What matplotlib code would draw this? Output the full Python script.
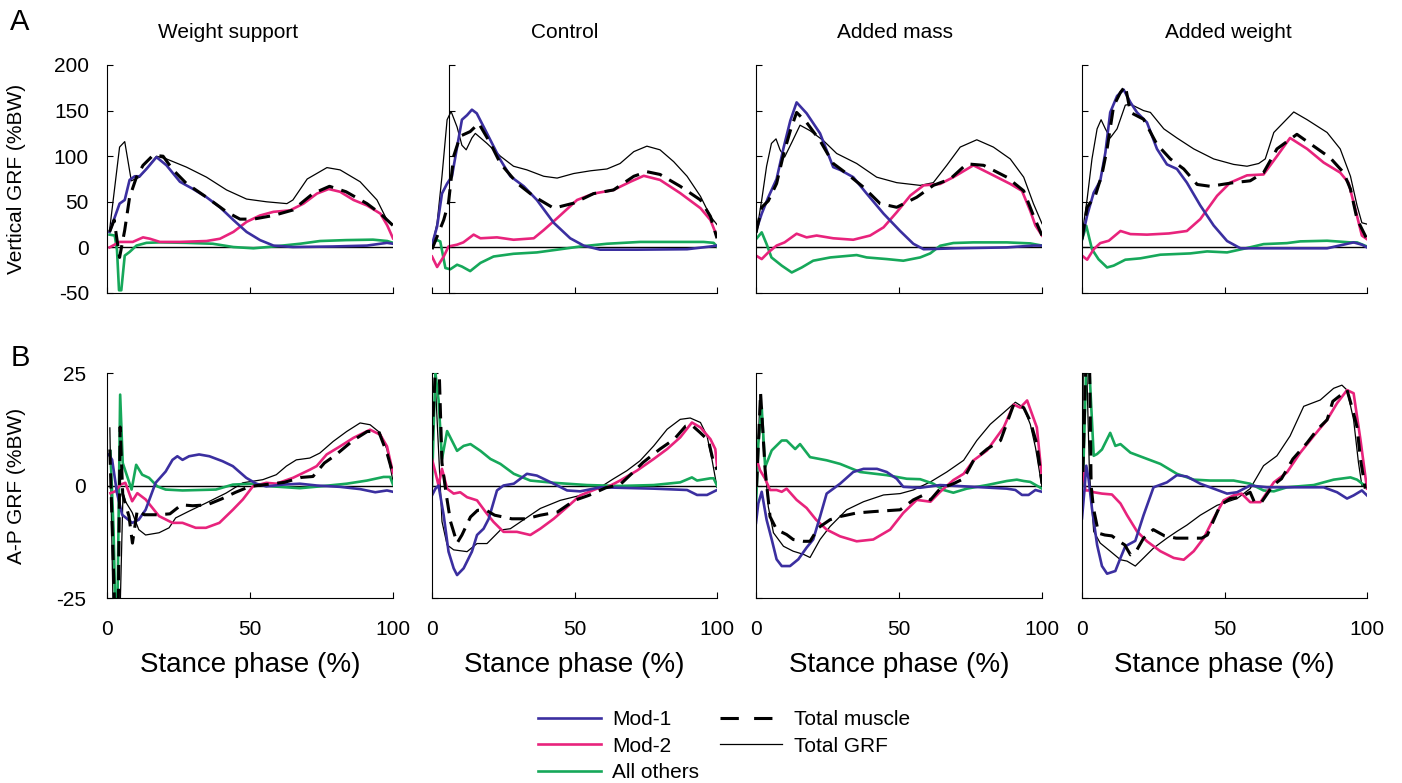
import matplotlib
matplotlib.use("Agg")
import matplotlib.pyplot as plt
from matplotlib.lines import Line2D
import numpy as np

plt.rcParams['font.family'] = ['Liberation Sans', 'DejaVu Sans']
plt.rcParams['axes.unicode_minus'] = False

CONDITIONS = ["Weight support", "Control", "Added mass", "Added weight"]
SERIES = ["Mod-1", "Mod-2", "All others", "Total muscle", "Total GRF"]
V_TICKS = [-50, 0, 50, 100, 150, 200]
AP_TICKS = [-25, 0, 25]
X_TICKS = [0, 50, 100]

# ---------------- Vertical GRF (%BW) ----------------
# Weight support
WS_V_GRF = [(0.9,19),(4.4,110),(6.2,116),(8.5,73),(11.4,77),(17.3,100),(20.8,97),(27.8,88),(34.8,77),
            (41.8,63),(48.8,53),(55.8,50),(62.9,48),(65,52),(70,75),(76.9,87.5),(81.5,85),(88.5,72),
            (94.4,52),(97.9,30),(100,25)]
WS_V_MOD1 = [(0.9,17),(2.7,33),(4.4,48),(6.2,52),(7.9,74),(9.7,78),(11.4,78),(13.8,86),(17.3,99),(20.8,90),
             (25.5,72),(30.1,64),(34.8,55),(39.5,44),(44.2,30),(48.8,17),(53.5,8),(58.2,2),(65,0.4),(79,1),
             (90.9,2),(97.9,5),(100,4)]
WS_V_MUS = [(0.9,17),(2.5,30),(4.4,-11),(6.2,19),(7.9,55),(10.3,77),(12.6,90),(16.1,101),(19.6,100),(23.1,85),
            (27.8,70),(34.8,55),(41.8,39),(46.5,31),(51.2,31),(58.2,35),(65,41),(72,59),(77.8,67),(83.6,61),
            (90.9,48),(95.6,37),(100,24)]
WS_V_MOD2 = [(0.9,0),(4.4,6),(9,6),(12.6,11),(15,9.5),(18.5,6),(25.5,6),(34.8,7),(39.5,9.5),(44.2,17),
             (48.8,28),(53.5,35),(58.2,39),(64,40.6),(68.7,48),(73.4,59),(77.5,64),(81.5,61),(86.2,52),
             (90.9,46),(95.6,37),(98,24),(100,10)]
WS_V_OTH = [(0.9,14),(2.7,13),(3.5,-3),(4.2,-47),(5,-47),(6.2,-9),(7.9,-5),(10.3,2),(13.8,5),(18.5,5.5),
            (27.8,5),(37,4),(44.2,0.4),(51.2,-1),(58.2,1),(67.5,4),(74.5,7),(83.6,8),(93,8.5),(98,7),(100,5)]

# Control
CT_V_GRF = [(0,1),(1.8,27),(3.5,78),(5.3,140),(6.7,149),(8.8,132),(10.5,112),(12,107),(14,120),(15.2,125),
            (19.3,114),(24,100),(28.6,89),(33.3,85),(39.2,78),(43.9,76),(49.7,81),(55.6,84),(61.4,86),(66,92),
            (70.8,105),(75.4,111),(80,107),(84.8,94),(89.5,78),(94.2,56),(97.7,34),(100,25)]
CT_V_MOD1 = [(0,3),(1.8,23),(3.5,59),(5.3,70),(7,78),(8.8,110),(10.5,140),(12.3,145),(14,151),(15.7,147),
             (19.3,125),(24,96),(27.5,78),(32.2,67),(36.8,52),(42.7,27),(48.5,10),(53.2,2),(59,-2.5),(72,-2.5),
             (89.5,-2),(97.7,1),(100,2)]
CT_V_MUS = [(0,-2),(1.8,12),(4.1,30),(5.8,49),(7.6,100),(9.9,122),(13.4,127),(16.4,136),(20.5,114),(24,92),
            (30,70),(35.7,56),(42.7,43),(49.7,48.5),(56.7,59),(63.7,63),(70.8,78),(75.4,83),(80,80),(87.1,67),
            (94.2,52),(97.7,34),(100,10)]
CT_V_MOD2 = [(0,-10),(1.8,-21.5),(4.1,-10),(5.8,1),(8.8,3),(11,5.5),(14.6,14),(17,10),(22.8,11),(28.6,8.4),
             (35.7,10),(39.2,19),(43.9,32),(50.9,52),(56.7,59),(63.7,63),(69.6,72),(74.3,78.5),(80,74),
             (87.1,59.5),(94.2,43),(97.7,30),(100,12)]
CT_V_OTH = [(0,5),(1.8,8),(2.9,6.5),(4.7,-22.6),(6.4,-24),(8.8,-19),(10.5,-21),(13.4,-26),(17,-17),(21.6,-10),
            (28.6,-7),(36.8,-5.5),(43.9,-2.5),(52,1),(61.4,4),(73,6),(84.8,6),(95.3,6),(98.8,5),(100,1)]

# Added mass
AM_V_GRF = [(0,13),(2,52),(3.7,89),(5.4,114),(7,119),(8.4,107),(10,99),(12.5,115),(15.4,134),(18.9,128),
            (23.6,117),(28.2,103),(35.2,92),(42.2,77),(49.2,71),(57.4,68),(62,71),(66.7,90),(71.4,110),
            (77.2,118),(83,110),(88.9,97),(93.6,77),(97,48),(100,26)]
AM_V_MOD1 = [(0,18),(2,37),(4.3,55),(7.2,75),(9.7,110),(12,139),(14.2,159),(17.7,147),(22.4,125),(27,88),
             (29.4,85),(34,77),(38.7,59),(44.6,37),(50.4,18),(55,4),(58.6,-2),(70,-1),(87.7,0),(97,2),(100,2)]
AM_V_MUS = [(0,16),(2,44),(4.3,51),(7.2,70),(9.7,103),(12,128),(14.2,148),(17.7,137),(22.4,117),(27,92),
            (31.7,81),(37.6,66),(43.4,48),(49.2,44),(56.2,55),(62,68),(67.9,75),(73.7,91.6),(79.6,90),
            (87.7,77),(93.6,62),(97,35),(100,13)]
AM_V_MOD2 = [(0,-9),(2,-12.8),(4.3,-5.5),(7.2,2),(10,5.5),(14.2,15),(17.7,11),(21.2,13),(27,10),(34,8.4),
             (39.9,13),(44.6,22),(49.2,38.5),(54,57),(58.6,68),(64.4,69.6),(69,77),(76,90),(83,79),(88.9,69.6),
             (93,62),(95.9,40),(97.7,24),(100,13)]
AM_V_OTH = [(0,9),(2,16.5),(3.7,3.7),(5.4,-11),(9,-20),(12.5,-27.5),(16,-22),(20,-14.6),(26,-11),(35.2,-8.4),
            (38.7,-11),(45.7,-12.8),(51.5,-14.6),(57.4,-11),(60.9,-6.6),(64.4,1.8),(69,4.8),(76,5.5),
            (87.7,5.5),(95.9,4.4),(100,2)]

# Added weight
AW_V_GRF = [(0,13),(1.8,53),(3.5,97),(5.3,130),(6.7,140),(8.2,130),(9.9,120),(12.3,130),(15.2,156),(17,157),
            (21.6,150),(24,148),(28.7,130),(33.3,120),(39.2,108),(46.2,97),(53.2,91),(57.9,89),(62,92),
            (64.3,97),(67.3,126),(74.3,148.5),(79,140),(86,126),(90.6,108),(94.2,78),(96.5,46),(98.2,27),(100,25.5)]
AW_V_MOD1 = [(0,9),(1.8,35),(4.1,60),(6.4,73),(8.2,104),(9.9,148),(12.3,166),(14.6,173),(17,159),(19.3,148),
             (22.8,137),(26.3,108),(29.8,91),(33.3,86),(36.8,71),(41.5,46),(46.2,24),(50.9,7),(55.6,-1),
             (62.6,-1),(86,-1),(95.3,5.5),(98.2,3),(100,0)]
AW_V_MUS = [(0,9),(1.8,44),(4.7,57),(7,80),(8.8,108),(11.1,155),(13.5,170),(15.2,177),(17,148),(21.6,140.5),
            (26.3,113),(31,97),(35.7,86),(40.4,69),(45,67),(53.2,71),(59,73),(63.7,82),(68.4,108),(75.4,124),
            (81.3,111),(87,98.5),(91.8,82),(94.2,64),(96.5,31),(100,9)]
AW_V_MOD2 = [(0,-9),(1.8,-13.5),(4.1,-2),(6.4,4.7),(9.4,7.3),(13.5,18),(17,14.6),(22.8,14),(30.5,15.3),
             (36.8,18),(41.5,31),(47.4,56.6),(52,71),(57.9,79),(63.7,80),(68.4,100),(73,120),(79,108),
             (84.8,93),(90.6,82),(93.5,71),(95.9,42),(98.2,13),(100,9)]
AW_V_OTH = [(0,8.4),(1.5,23.7),(3.5,-2),(5.8,-13),(8.8,-22),(11.1,-20),(15.2,-13.5),(20.5,-12),(27.5,-8),
            (38,-6.6),(43.9,-4.4),(50.9,-5.5),(57.9,-0.7),(63.7,3.6),(71.9,4.7),(76.6,6.6),(86,7.3),(94.2,5.5),
            (96.5,5.5),(100,1)]

# ---------------- A-P GRF (%BW) ----------------
WS_AP_GRF = [(1,12.8),(2.2,-30),(4.5,-30),(5.6,-1.5),(6.4,-3.5),(8.8,-6),(11.1,-9.8),(13.5,-11),(18.2,-10.5),
             (21.7,-9.4),(24,-7.2),(28.7,-5.7),(34.6,-3.9),(41.6,-1.7),(47.5,0.6),(54.5,1.3),(59.2,2.4),
             (62.7,4.3),(66.2,5.7),(70.9,6.1),(74.4,7.2),(79.1,9.8),(83.8,12),(88.5,13.9),(92,13.5),
             (95.5,11.7),(97.9,8),(100,0.9)]
WS_AP_MOD1 = [(0.6,6.9),(1.8,5.7),(3.5,-1.7),(5.3,-6.5),(8.8,-8.3),(11.1,-7.6),(13.5,-5.4),(17,0.6),(20.5,3.1),
              (22.9,5.7),(24.6,6.5),(26.4,5.7),(28.7,6.5),(32.2,6.9),(35.8,6.5),(40.4,5.4),(44,4.3),
              (48.7,1.7),(52.2,0.4),(55.7,-0.2),(61.5,0.2),(67.4,0.4),(73.3,0),(81.5,-0.3),(88.5,-0.8),
              (93.8,-1.5),(97.9,-1.1),(100,-1.4)]
WS_AP_MUS = [(1,8),(2.8,-30),(3.9,-30),(4.6,13),(5.5,-2),(7.7,-6.9),(8.9,-12.8),(10.6,-5.4),(13,-6.5),
             (18,-6.5),(22,-6.3),(26,-4.3),(30,-4.5),(35,-4.3),(40,-3),(45,-1.5),(50,-0.2),(58,0.4),(62,0.7),
             (68,1.8),(72,2),(76,5),(80,6.8),(86,10),(91,12),(95,12),(98,7),(100,2.5)]
WS_AP_MOD2 = [(1.2,-1.7),(2.9,-1.3),(4.7,0.2),(6.4,0.6),(8.8,-3.5),(10.6,-1.7),(13.5,-3.1),(18.2,-6.8),
              (22.9,-8.3),(26.4,-8.3),(31,-9.4),(34.6,-9.4),(39.3,-8.3),(44,-5.4),(47.5,-3.1),(51,-0.2),
              (55.7,0.6),(59.2,0.4),(65,1.7),(70.9,3.5),(73.3,4.3),(76.8,6.9),(81.5,8.7),(86.2,10.6),
              (92,12.4),(95.5,11.3),(97.9,8.7),(100,2.8)]
WS_AP_OTH = [(1.2,7.6),(2.3,-10),(3.0,-30),(3.6,-30),(4.6,20.2),(5.5,5),(8.6,-0.9),(10.2,4.6),(12.3,2.4),
             (14.7,1.7),(17.6,-0.2),(20.5,-0.9),(26.4,-1.1),(38.1,-0.9),(44,0.2),(51,0.4),(58,-0.2),
             (67.4,-0.6),(74.4,-0.2),(83.8,0.4),(90.9,1.1),(96.7,1.9),(99,1.9),(100,0.2)]

CT_AP_GRF = [(0.3,30),(1.0,25),(3.5,-8),(5.3,-13.2),(7.6,-14.3),(12.3,-14.7),(15.8,-12.9),(19.3,-12.9),
             (24,-9.9),(27.5,-9.6),(31,-8.1),(38,-5.1),(45,-3.3),(52,-2.2),(59,-0.4),(63.7,1.5),(68.4,3.3),
             (73,5.5),(77.8,8.8),(82.5,12.5),(87.1,14.7),(90.6,15),(94.2,14),(96.5,11),(98.2,5.9),(100,-0.4)]
CT_AP_MOD1 = [(0,-2.2),(1.2,-0.7),(2.3,0),(4.1,-6.6),(5.8,-14.7),(7.6,-18.4),(8.8,-19.9),(11.1,-18.4),
              (14,-14.7),(15.8,-11),(18.1,-9.6),(19.9,-7.4),(22.8,-1.1),(25.1,0),(28.7,0.4),(33.3,2.6),
              (36.8,2.2),(42.7,0.4),(47.4,-1.1),(52,-1.3),(59,-0.4),(77.8,-0.7),(89.5,-1),(93,-2.1),
              (96.5,-2.1),(100,-1)]
CT_AP_MUS = [(0,10),(1.5,30),(2.5,26),(3.5,5),(5,-2),(6.5,-8),(8.8,-12.8),(10.5,-11),(13.5,-7),(16,-5.5),
             (19,-5.5),(22,-6.6),(28,-7.4),(33,-7.4),(38,-6.6),(44,-5.9),(50,-3.3),(55,-2.2),(61,-0.5),
             (66,0.2),(70,2.6),(74,5.1),(80,8.1),(85,10.3),(89,13.2),(91,13.5),(94,11.8),(97,10),(98.5,5.9),(100,3.5)]
CT_AP_MOD2 = [(0,5.9),(1.2,2.9),(2.3,0),(3.5,3.7),(5.3,-0.7),(7.6,-1.8),(9.9,-1.5),(12.3,-2.6),(15.8,-3.3),
              (19.3,-6.3),(21.6,-8.1),(25.1,-10.3),(29.8,-10.3),(34.5,-11),(38,-9.6),(42.7,-7.4),(47.4,-4.8),
              (52,-2.2),(57.9,-0.7),(61.4,-0.4),(66,1.1),(71.9,3.3),(77.8,5.9),(82.5,8.1),(87.1,10.7),
              (91.2,14),(94.2,12.9),(97.7,10.3),(99.4,8.1),(100,4.4)]
CT_AP_OTH = [(0,0),(0.6,13.2),(1.2,25),(2.3,19),(3.5,5.9),(5.3,12.1),(8.8,7.7),(11.1,8.8),(13.5,9.2),
             (17,7.7),(20.5,5.9),(24,4.8),(28.7,2.6),(34.5,1.1),(42.7,0.6),(54.4,0.1),(66,-0.1),(77.8,0.1),
             (87.1,0.7),(91.2,1.8),(93,1.1),(97.7,1.6),(98.8,1.6),(100,0)]

AM_AP_GRF = [(0.2,-1.8),(1.4,20),(2.6,9.2),(4.3,-4.7),(6.1,-10.5),(9.6,-13.5),(13,-14.6),(16.6,-15.3),
             (18.9,-16),(22.4,-12),(25.9,-9.1),(31.7,-5.4),(37.6,-3.6),(44.6,-2.1),(50.4,-1.8),(55,-1),
             (61,0.8),(66.7,3),(72.6,5.6),(77.2,10),(81.9,13.6),(86.6,16.2),(90.7,18.5),(93.6,17.3),
             (95.9,13.6),(97.7,8.5),(100,-0.3)]
AM_AP_MOD1 = [(0,-8.3),(0.8,-4),(2,-1.4),(3.7,-7.6),(5.5,-12),(7.2,-16.4),(9,-17.9),(11.9,-17.9),(14.8,-16.4),
              (17.7,-13.8),(20,-12),(22.4,-6.9),(24.7,-1.8),(29.4,0.4),(34,3),(37.6,3.7),(42.3,3.7),(45.7,3),
              (49.2,1.5),(51.5,-0.3),(57.4,-0.5),(64.4,0.1),(76.1,-0.3),(87.7,-0.7),(90.7,-1),(93,-2.1),
              (95.3,-2.1),(97.7,-1),(100,-1.4)]
AM_AP_MUS = [(0.2,-0.3),(1.6,20.6),(3.2,3.4),(4.9,-6.9),(7.2,-9.8),(10.7,-10.9),(13,-12),(16.6,-12.4),
             (18.9,-12.4),(21.8,-9.4),(25.9,-7.6),(29.4,-6.9),(35.2,-6.1),(41,-5.8),(45.7,-5.6),(50.4,-5.4),
             (55,-3.2),(58.6,-2.1),(61,-3.2),(64.4,-0.7),(69,0.4),(72.6,1.5),(76.1,5.6),(80.8,8.1),(85.5,10),
             (90.1,18),(93.6,17.3),(95.9,14.3),(98.2,9.2),(100,0.4)]
AM_AP_MOD2 = [(0,6.3),(1.4,3.4),(3.2,1.5),(4.9,-1),(7.2,-1),(9,-1.4),(10.7,-0.7),(14.2,-3.2),(17.7,-5),
              (21,-7.6),(24.7,-9.8),(29.4,-11.3),(35.2,-12.4),(41,-12),(46.9,-9.8),(51.5,-6.1),(56.2,-3.2),
              (61,-3.6),(64.4,-1.4),(69,1.2),(72.6,2.6),(76.1,5.6),(80.8,7.8),(86.6,12.9),(90.1,18),
              (92.4,17.3),(94.8,18.9),(98.2,12.9),(100,1.5)]
AM_AP_OTH = [(0,-4.7),(0.8,9.2),(2,17.3),(3.2,4.1),(5.5,7.8),(9,10),(10.7,10),(13.7,8.1),(15.4,9.2),
             (18.9,6.3),(24.7,5.6),(29.4,4.8),(36.4,3),(45.7,2.3),(52.7,1.5),(57.4,1.4),(62,0.4),(65.6,-1),
             (69,-1.6),(73.7,-0.7),(80.8,0.1),(87.7,1),(91.2,1.3),(93.6,1),(95.9,0.8),(100,-0.7)]

AW_AP_GRF = [(0,-9.5),(0.5,30),(1.5,30),(2.6,3),(4.1,-10.2),(6.4,-12.8),(9.9,-14.6),(13.5,-16.5),(15.8,-16.8),
             (18.7,-17.9),(21.6,-16.1),(25.1,-13.9),(29.8,-11.7),(33.3,-10.2),(36.8,-8.8),(41.5,-6.6),
             (47.4,-4.4),(54.4,-2.9),(59,-0.7),(63.7,4.4),(68.4,6.6),(73,11),(77.8,17.6),(83.6,19),
             (88.3,21.6),(91.2,22.3),(93,21.2),(95.3,14.6),(97,5.1),(98.2,0),(100,-0.4)]
AW_AP_MOD1 = [(0,-7.3),(0.8,-1.5),(1.5,4.4),(2.3,1.5),(3.5,-5.1),(5.3,-13.2),(7,-17.9),(8.8,-19.6),
              (11.7,-19),(13.5,-16.1),(15.2,-13.5),(18.7,-12.3),(21.6,-6.6),(25.1,-0.4),(29.8,0.7),(33.3,2.3),
              (36.8,2),(41.5,0.4),(46.2,-0.7),(50.9,-1.8),(54.4,-1.5),(59,0),(64.9,-0.4),(74.3,-0.4),
              (84.8,-0.4),(89.5,-1.5),(93,-2.9),(95.3,-2.2),(98.2,-1.1),(100,-2.2)]
AW_AP_MUS = [(0.3,3),(1.5,30),(2.6,30),(3.2,0),(4,-5),(5.8,-10.6),(8,-11),(10.5,-11.2),(13,-12.4),(15,-13.2),
             (17,-15.4),(19,-14.6),(21.6,-11.7),(25,-9.8),(29,-11.2),(33,-11.7),(38,-11.7),(42,-11.7),
             (44,-11),(46,-8),(48.5,-4.4),(52,-2.9),(55.6,-2.6),(59,-1.5),(60.5,-3.7),(63,-3.7),(67,0),
             (70,1.5),(74,5.9),(79,9.5),(82.5,12.4),(86,14.6),(88,18.7),(93,21.2),(95,16.8),(96.5,13),
             (97.7,5.9),(99.4,-0.7)]
AW_AP_MOD2 = [(0,6),(1.2,-1.1),(2.9,-1.1),(4.1,-1.5),(7,-1.8),(10.5,-2),(13.5,-4),(15.8,-6.6),(19.3,-10.2),
              (22.8,-12.4),(27.5,-14.6),(32.2,-16.1),(35.7,-16.5),(39.2,-14.6),(42.7,-11.7),(46.2,-7.3),
              (49.7,-3.3),(53.2,-2.2),(56,-1.8),(59,-3.7),(62.6,-3.7),(67.3,0.7),(71.9,2.9),(76.6,7.3),
              (81.3,11),(86,14.6),(89.5,18.3),(93,21.2),(95.3,20.5),(97.7,10.2),(100,-0.7)]
AW_AP_OTH = [(0.3,0),(1.5,27),(2.5,27),(4.1,6.6),(5.3,7),(7,8),(9.9,11.7),(11.7,8.8),(13.5,9.2),(17,7.3),
             (21.6,6.2),(27.5,4.8),(33.3,2.6),(39.2,1.3),(45,1.1),(53.2,1.1),(59,0.4),(63.7,-1.1),(67.3,-1.3),
             (71.9,-0.4),(81.3,0.1),(88.3,1.3),(94.2,1.8),(96.5,1.3),(100,-0.4)]

V_DATA = [
    (WS_V_MOD1, WS_V_MOD2, WS_V_OTH, WS_V_MUS, WS_V_GRF),
    (CT_V_MOD1, CT_V_MOD2, CT_V_OTH, CT_V_MUS, CT_V_GRF),
    (AM_V_MOD1, AM_V_MOD2, AM_V_OTH, AM_V_MUS, AM_V_GRF),
    (AW_V_MOD1, AW_V_MOD2, AW_V_OTH, AW_V_MUS, AW_V_GRF),
]
AP_DATA = [
    (WS_AP_MOD1, WS_AP_MOD2, WS_AP_OTH, WS_AP_MUS, WS_AP_GRF),
    (CT_AP_MOD1, CT_AP_MOD2, CT_AP_OTH, CT_AP_MUS, CT_AP_GRF),
    (AM_AP_MOD1, AM_AP_MOD2, AM_AP_OTH, AM_AP_MUS, AM_AP_GRF),
    (AW_AP_MOD1, AW_AP_MOD2, AW_AP_OTH, AW_AP_MUS, AW_AP_GRF),
]

C_MOD1 = '#3b2fa0'
C_MOD2 = '#e8237c'
C_OTH = '#16a85a'

W, H = 1402, 783
fig = plt.figure(figsize=(W / 100, H / 100), dpi=100)

col_left = [107, 432, 756, 1082]
col_right = [393, 717, 1042, 1367]
top_row = (65, 293)
bot_row = (373, 598)


def make_ax(ci, row):
    x0, x1 = col_left[ci], col_right[ci]
    y0, y1 = row
    return fig.add_axes([x0 / W, 1 - y1 / H, (x1 - x0) / W, (y1 - y0) / H])


def draw(ax, series):
    mod1, mod2, oth, mus, grf = series
    ax.axhline(0, color='black', lw=1.0, zorder=1)
    for pts, kw in [
        (grf, dict(color='black', lw=0.9)),
        (oth, dict(color=C_OTH, lw=1.9)),
        (mod2, dict(color=C_MOD2, lw=1.9)),
        (mod1, dict(color=C_MOD1, lw=1.9)),
        (mus, dict(color='black', lw=2.2, dashes=(5, 2.8))),
    ]:
        a = np.array(pts)
        ax.plot(a[:, 0], a[:, 1], **kw)


def style(ax, yticks, ylim):
    ax.set_xlim(0, 100)
    ax.set_ylim(*ylim)
    for s in ['top', 'right']:
        ax.spines[s].set_visible(False)
    for s in ['left', 'bottom']:
        ax.spines[s].set_linewidth(0.8)
    ax.set_xticks(X_TICKS)
    ax.set_yticks(yticks)
    ax.tick_params(direction='in', length=4, width=0.8, labelsize=15)


for ci in range(4):
    # vertical row
    ax = make_ax(ci, top_row)
    draw(ax, V_DATA[ci])
    style(ax, V_TICKS, (-50, 200))
    ax.set_xticklabels([])
    if ci == 1:
        ax.spines['left'].set_position(('data', 6))
    if ci == 0:
        ax.tick_params(axis='y', pad=13)
        ax.set_ylabel("Vertical GRF (%BW)", fontsize=15)
        ax.yaxis.set_label_coords(-0.283, 0.5)
    else:
        ax.set_yticklabels([])

    # A-P row
    ax2 = make_ax(ci, bot_row)
    draw(ax2, AP_DATA[ci])
    style(ax2, AP_TICKS, (-25, 25))
    ax2.tick_params(axis='x', pad=16)
    ax2.set_xlabel("Stance phase (%)", fontsize=20, labelpad=9)
    if ci == 0:
        ax2.tick_params(axis='y', pad=15)
        ax2.set_ylabel("A-P GRF (%BW)", fontsize=15)
        ax2.yaxis.set_label_coords(-0.283, 0.5)
    else:
        ax2.set_yticklabels([])

title_x = [228, 565, 895, 1228]
for ci, name in enumerate(CONDITIONS):
    fig.text(title_x[ci] / W, 1 - 33 / H, name, ha='center', va='center', fontsize=15)

fig.text(20 / W, 1 - 22 / H, "A", ha='center', va='center', fontsize=21)
fig.text(20 / W, 1 - 358 / H, "B", ha='center', va='center', fontsize=21)

handles = [
    Line2D([], [], color=C_MOD1, lw=1.9),
    Line2D([], [], color=C_MOD2, lw=1.9),
    Line2D([], [], color=C_OTH, lw=1.9),
    Line2D([], [], color='black', lw=2.2, dashes=(6, 5)),
    Line2D([], [], color='black', lw=0.9),
]
fig.legend(handles, SERIES, loc='upper left', bbox_to_anchor=(534 / W, 1 - 706 / H), ncol=2,
           frameon=False, fontsize=15, handlelength=3.0, handletextpad=0.55, columnspacing=1.0,
           labelspacing=0.36, borderpad=0.2, borderaxespad=0)

fig.savefig("out.png", dpi=100)
